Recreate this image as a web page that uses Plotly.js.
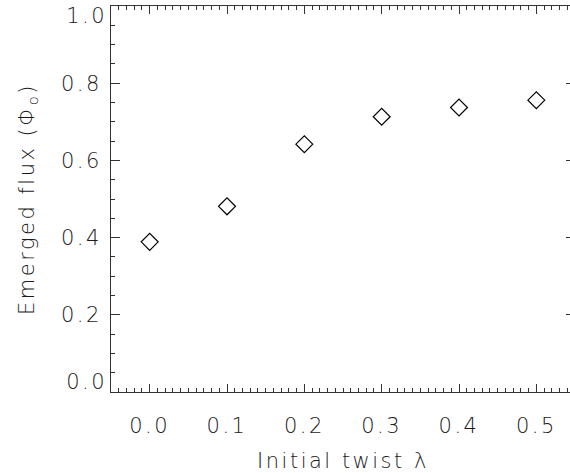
<!DOCTYPE html>
<html>
<head>
<meta charset="utf-8">
<script src="https://cdn.plot.ly/plotly-3.0.1.min.js"></script>
<style>
html,body{margin:0;padding:0;overflow:hidden;background:#fff;width:570px;height:473px;}
#chart{width:580px;height:473px;}
#chart .xtick text, #chart .ytick text, #chart .xtitle, #chart .ytitle, #chart .annotation-text {letter-spacing:2.5px;}
</style>
</head>
<body>
<div id="chart"></div>
<script>
const twist = [0.0, 0.1, 0.2, 0.3, 0.4, 0.5];
const emergedFlux = [0.389, 0.481, 0.642, 0.713, 0.737, 0.756];
const xTickVals = [0.0, 0.1, 0.2, 0.3, 0.4, 0.5];
const xTickText = ['0.0', '0.1', '0.2', '0.3', '0.4', '0.5'];
const yTickVals = [0.0, 0.2, 0.4, 0.6, 0.8, 1.0];
const yTickText = ['0.0', '0.2', '0.4', '0.6', '0.8', '1.0'];

const fontFam = 'DejaVu Sans, sans-serif';
const ink = '#1a1a1a';
const fw = 200;
const fs = 21;

// edge labels (0.0 and 1.0) are nudged inside the frame as in the original
const yTickShown = yTickText.map((t, i) => (i === 0 || i === yTickText.length - 1) ? ' ' : t);
const edgeAnn = [0, yTickText.length - 1].map(i => ({
  xref: 'paper', yref: 'y', x: 0, y: yTickVals[i],
  text: yTickText[i], showarrow: false,
  xanchor: 'right', yanchor: i === 0 ? 'bottom' : 'top',
  xshift: -6, yshift: i === 0 ? -4 : 4,
  font: {family: fontFam, size: fs, color: ink, weight: fw}
}));

const trace = {
  x: twist, y: emergedFlux, type: 'scatter', mode: 'markers',
  marker: {symbol: 'diamond-open', size: 13, color: '#000', line: {width: 1.2, color: '#000'}},
  hoverinfo: 'none', cliponaxis: false
};

const layout = {
  width: 580, height: 473,
  margin: {l: 111, r: 5, t: 6, b: 81},
  paper_bgcolor: '#fff', plot_bgcolor: '#fff',
  showlegend: false,
  font: {family: fontFam, color: ink, size: fs, weight: fw},
  annotations: edgeAnn,
  xaxis: {
    range: [-0.05, 0.55], showgrid: false, zeroline: false,
    showline: true, linecolor: '#333', linewidth: 1, mirror: 'allticks',
    ticks: 'inside', ticklen: 8, tickwidth: 1, tickcolor: '#333',
    tickvals: xTickVals, ticktext: xTickText,
    tickfont: {family: fontFam, size: fs, color: ink, weight: fw},
    ticklabelstandoff: 15, ticklabeloverflow: 'allow',
    minor: {ticks: 'inside', dtick: 0.01, tick0: 0, ticklen: 4, tickwidth: 1, tickcolor: '#333', showgrid: false},
    title: {text: 'Initial twist λ', font: {family: fontFam, size: fs, color: ink, weight: fw}, standoff: 20}
  },
  yaxis: {
    range: [0, 1.0], showgrid: false, zeroline: false,
    showline: true, linecolor: '#333', linewidth: 1, mirror: 'allticks',
    ticks: 'inside', ticklen: 9, tickwidth: 1, tickcolor: '#333',
    tickvals: yTickVals, ticktext: yTickShown,
    tickfont: {family: fontFam, size: fs, color: ink, weight: fw},
    ticklabelstandoff: 4, ticklabeloverflow: 'allow',
    minor: {ticks: 'inside', dtick: 0.05, tick0: 0, ticklen: 4, tickwidth: 1, tickcolor: '#333', showgrid: false},
    title: {text: 'Emerged flux (Φ<sub>o</sub>)', font: {family: fontFam, size: fs, color: ink, weight: fw}, standoff: 28}
  }
};

Plotly.newPlot('chart', [trace], layout, {staticPlot: true, displayModeBar: false});
</script>
</body>
</html>
